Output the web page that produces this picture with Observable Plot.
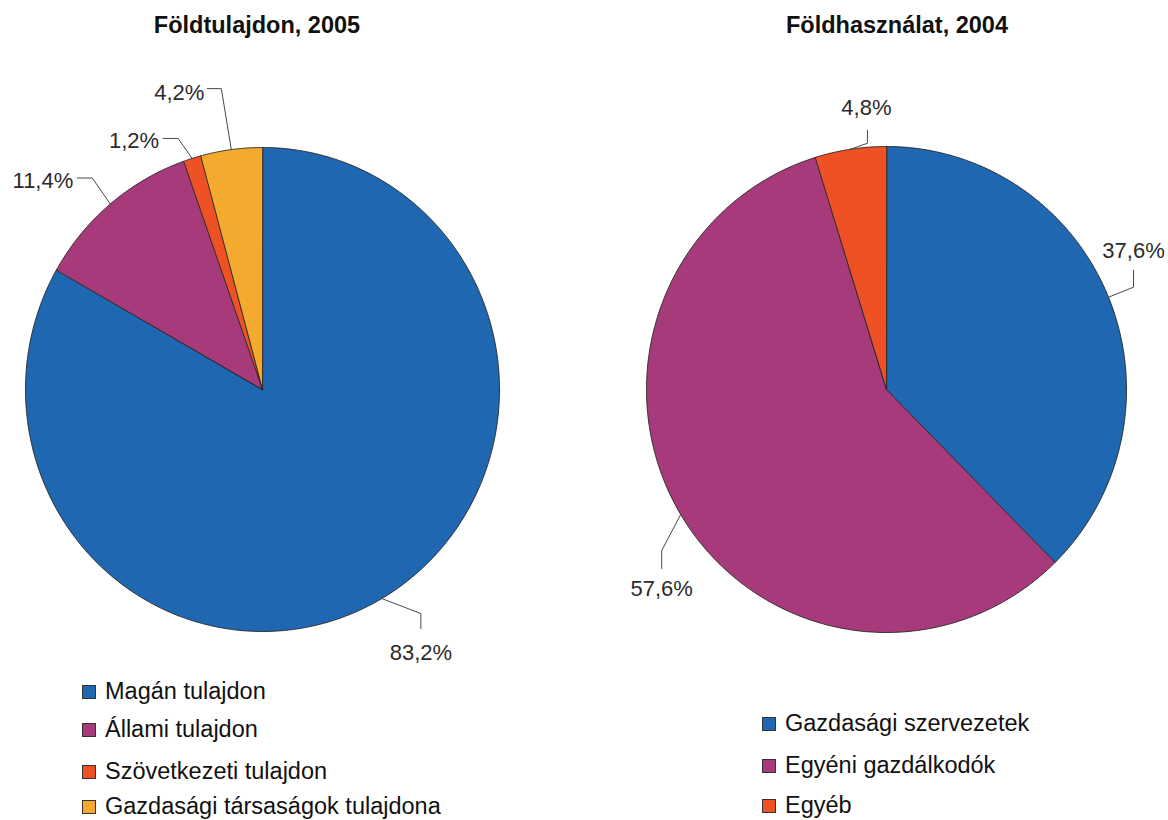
<!DOCTYPE html>
<html>
<head>
<meta charset="utf-8">
<script src="https://cdn.jsdelivr.net/npm/d3@7"></script>
<script src="https://cdn.jsdelivr.net/npm/@observablehq/plot@0.6"></script>
<style>
  body { margin: 0; background: #fff; font-family: "Liberation Sans", Arial, sans-serif; }
  #page { position: relative; width: 1168px; height: 820px; overflow: hidden; background: #fff; }
  .title { position: absolute; width: 400px; text-align: center; font-weight: bold; font-size: 23.5px; line-height: 24px; color: #111; white-space: nowrap; }
  .lg { position: absolute; height: 24px; font-size: 23.5px; line-height: 24px; color: #111; white-space: nowrap; }
  .lg .sw { position: absolute; left: 0; width: 12px; height: 12px; border: 1px solid #333; }
  .lg .t { position: absolute; left: 23px; top: 0; }
  .plotbox { position: absolute; }
</style>
</head>
<body>
<div id="page"></div>
<script>
// ---------- data ----------
const ownershipTitle = "Földtulajdon, 2005";
const ownershipCategories = ["Magán tulajdon", "Állami tulajdon", "Szövetkezeti tulajdon", "Gazdasági társaságok tulajdona"];
const ownershipValues = [83.2, 11.4, 1.2, 4.2];

const usageTitle = "Földhasználat, 2004";
const usageCategories = ["Gazdasági szervezetek", "Egyéni gazdálkodók", "Egyéb"];
const usageValues = [37.6, 57.6, 4.8];

const ownershipColors = ["#1f67b1", "#a63a7b", "#ee5123", "#f3aa2f"];
const usageColors = ["#1f67b1", "#a63a7b", "#ee5123"];

// ---------- layout ----------
const svgTop = 40, svgHeight = 640, svgWidth = 584;
const FONT = "Liberation Sans, Arial, sans-serif";

const leftLayout = {
  svgLeft: 0, cx: 262, cy: 389, rx: 237, ry: 242, titleX: 257,
  leaders: [
    {out: [39, 15], leg: [0, 15], text: [0, 24], anchor: "middle"},
    {out: [-18, -26], leg: [-15, 0], text: [-4, 2.5], anchor: "end"},
    {out: [-14, -20], leg: [-15, 0], text: [-4, 3], anchor: "end"},
    {out: [-10, -61], leg: [-14, 0], text: [-3, 4], anchor: "end"}
  ],
  legendLeft: 82, legendBaselines: [699, 737.5, 779, 814.5]
};
const rightLayout = {
  svgLeft: 584, cx: 886, cy: 389, rx: 240, ry: 243, titleX: 897,
  leaders: [
    {out: [25, -10], leg: [0, -17], text: [0, -19], anchor: "middle"},
    {out: [-19, 36], leg: [0, 18], text: [0, 20], anchor: "middle"},
    {out: [17, -6], leg: [0, -13], text: [-1, -22], anchor: "middle"}
  ],
  legendLeft: 762, legendBaselines: [731, 773, 813.5]
};

const fmt = v => v.toFixed(1).replace(".", ",") + "%";

function pieChart(categories, values, colors, L) {
  const arcs = d3.pie().sort(null).value(d => d)(values);
  const slices = [];
  const leaderPts = [];
  const labels = [];
  arcs.forEach((a, i) => {
    const cat = categories[i];
    slices.push({cat, u: 0, v: 0});
    const n = Math.max(2, Math.ceil((a.endAngle - a.startAngle) / (Math.PI / 360)));
    for (let k = 0; k <= n; k++) {
      const t = a.startAngle + (a.endAngle - a.startAngle) * k / n;
      slices.push({cat, u: Math.sin(t), v: Math.cos(t)});
    }
    const m = (a.startAngle + a.endAngle) / 2;
    const lay = L.leaders[i];
    const p0 = {u: Math.sin(m), v: Math.cos(m)};
    const p1 = {u: p0.u + lay.out[0] / L.rx, v: p0.v - lay.out[1] / L.ry};
    const p2 = {u: p1.u + lay.leg[0] / L.rx, v: p1.v - lay.leg[1] / L.ry};
    [p0, p1, p2].forEach(p => leaderPts.push({id: cat, ...p}));
    labels.push({u: p2.u + lay.text[0] / L.rx, v: p2.v - lay.text[1] / L.ry, text: fmt(values[i]), anchor: lay.anchor});
  });

  const textOpts = {x: "u", y: "v", text: "text", fontSize: 22, fontFamily: FONT, fill: "#2b2b2b", lineAnchor: "middle"};
  return Plot.plot({
    width: svgWidth, height: svgHeight, margin: 0,
    x: {domain: [-1, 1], range: [L.cx - L.rx - L.svgLeft, L.cx + L.rx - L.svgLeft], axis: null},
    y: {domain: [-1, 1], range: [L.cy + L.ry - svgTop, L.cy - L.ry - svgTop], axis: null},
    color: {domain: categories, range: colors},
    style: {overflow: "visible", background: "transparent", fontFamily: FONT},
    marks: [
      Plot.line(slices, {x: "u", y: "v", z: "cat", fill: "cat", stroke: "#262626", strokeWidth: 0.9, curve: "linear-closed"}),
      Plot.line(leaderPts, {x: "u", y: "v", z: "id", stroke: "#4a4a4a", strokeWidth: 1}),
      Plot.text(labels.filter(d => d.anchor === "end"), {...textOpts, textAnchor: "end"}),
      Plot.text(labels.filter(d => d.anchor === "middle"), {...textOpts, textAnchor: "middle"})
    ]
  });
}

const page = document.getElementById("page");

function addPanel(title, categories, values, colors, L) {
  const t = document.createElement("div");
  t.className = "title";
  t.textContent = title;
  t.style.left = (L.titleX - 200) + "px";
  t.style.top = (33 - 20.1) + "px";
  page.appendChild(t);

  const box = document.createElement("div");
  box.className = "plotbox";
  box.style.left = L.svgLeft + "px";
  box.style.top = svgTop + "px";
  box.appendChild(pieChart(categories, values, colors, L));
  page.appendChild(box);

  categories.forEach((c, i) => {
    const row = document.createElement("div");
    row.className = "lg";
    row.style.left = L.legendLeft + "px";
    row.style.top = (L.legendBaselines[i] - 20.1) + "px";
    const sw = document.createElement("span");
    sw.className = "sw";
    sw.style.background = colors[i];
    sw.style.top = "6px";
    const tx = document.createElement("span");
    tx.className = "t";
    tx.textContent = c;
    row.appendChild(sw);
    row.appendChild(tx);
    page.appendChild(row);
  });
}

addPanel(ownershipTitle, ownershipCategories, ownershipValues, ownershipColors, leftLayout);
addPanel(usageTitle, usageCategories, usageValues, usageColors, rightLayout);
</script>
</body>
</html>
